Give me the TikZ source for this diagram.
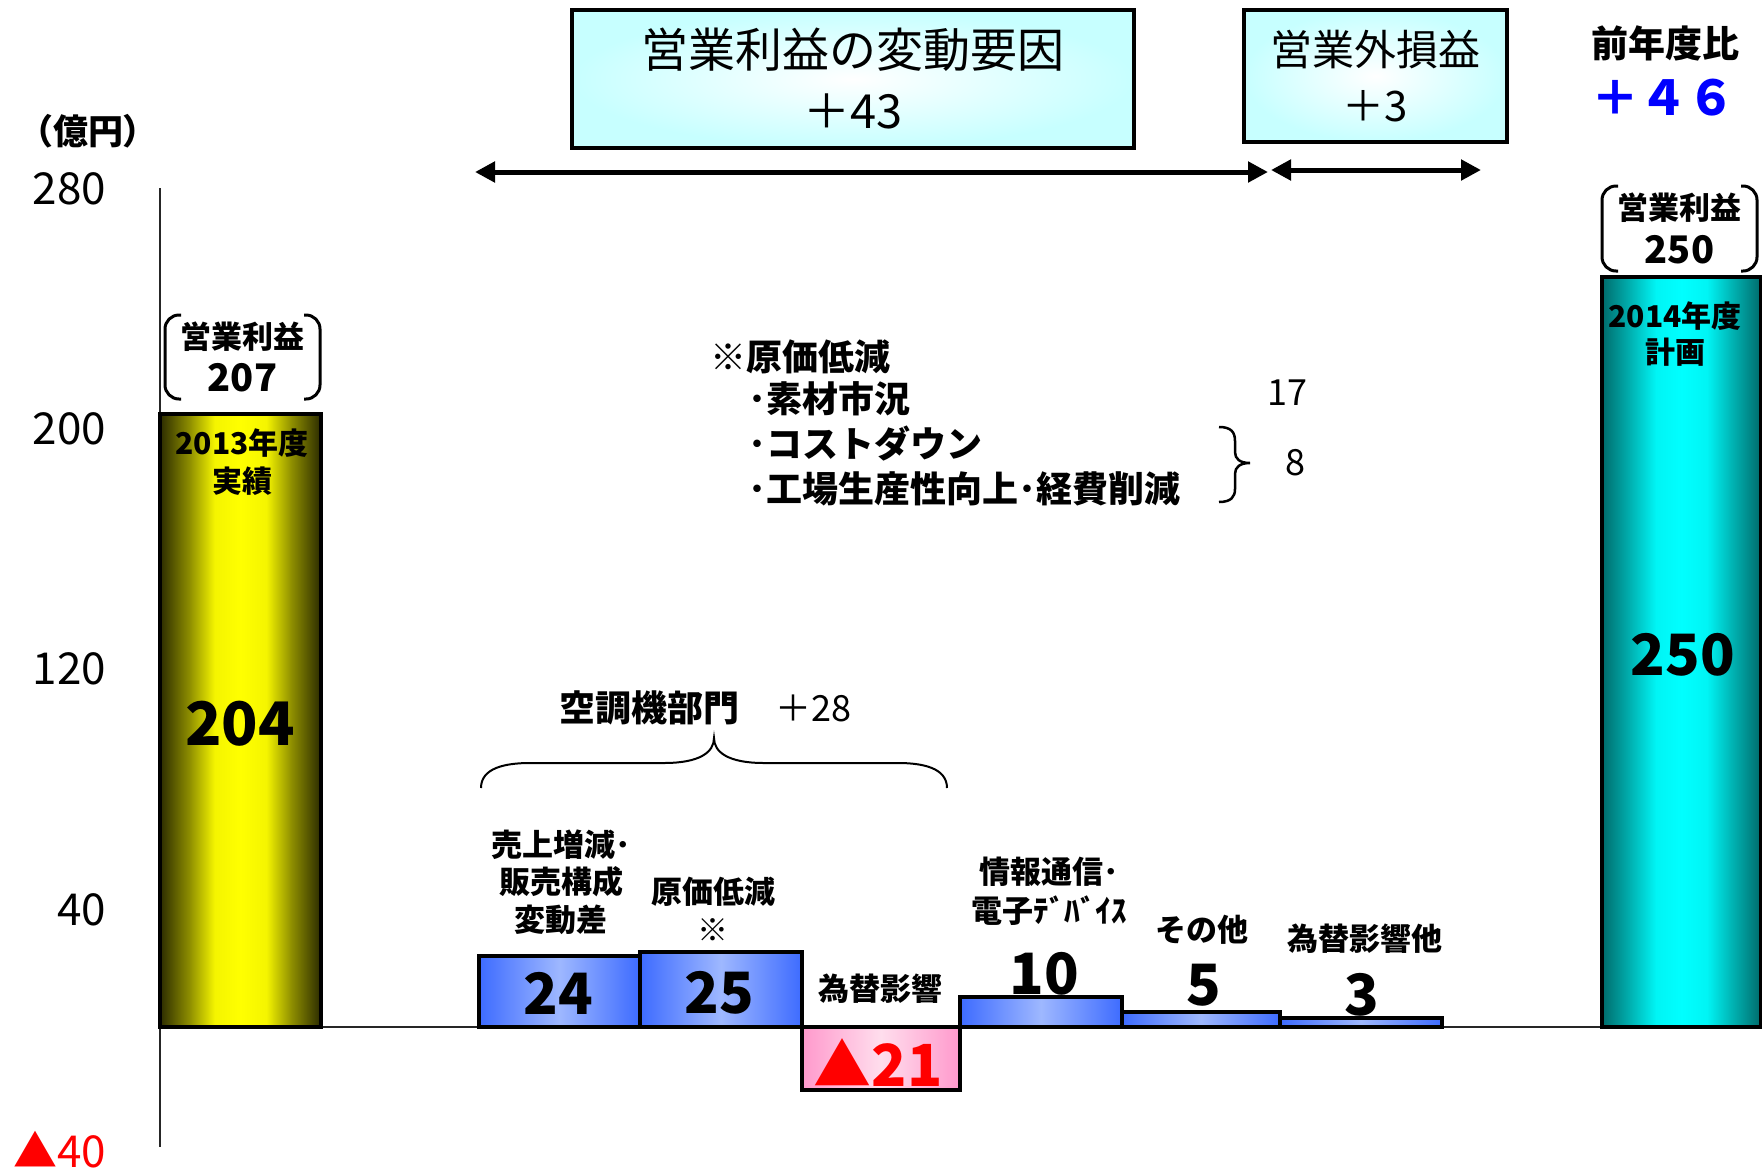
\documentclass[tikz,border=0pt]{standalone}
\usepackage{fontspec}
\setmainfont{Noto Sans CJK JP}
\usetikzlibrary{arrows.meta,shadings}
\newcommand\fsz[2]{\fontsize{#1pt}{#2pt}\selectfont}
\definecolor{ydark}{rgb}{0.17,0.17,0}
\definecolor{ymid}{rgb}{0.55,0.55,0}
\definecolor{ylt}{rgb}{0.96,0.96,0}
\definecolor{yel}{rgb}{1,1,0}
\definecolor{tdark}{rgb}{0,0.42,0.42}
\definecolor{tmid}{rgb}{0,0.7,0.7}
\definecolor{tlt}{rgb}{0,0.96,0.96}
\definecolor{tcyan}{rgb}{0,1,1}
\definecolor{bedge}{rgb}{0.24,0.42,1}
\definecolor{bmid}{rgb}{0.62,0.72,1}
\definecolor{pedge}{rgb}{1,0.6,0.8}
\definecolor{pmid}{rgb}{1,0.87,0.93}
\definecolor{boxc}{rgb}{0.78,1,1}
\definecolor{negred}{rgb}{1,0,0}
\definecolor{posblue}{rgb}{0,0,1}
\pgfdeclarehorizontalshading{yshade}{100bp}{color(0bp)=(ydark); color(25bp)=(ydark); color(34bp)=(ymid); color(42bp)=(ylt); color(50bp)=(yel); color(58bp)=(ylt); color(66bp)=(ymid); color(75bp)=(ydark); color(100bp)=(ydark)}
\pgfdeclarehorizontalshading{tshade}{100bp}{color(0bp)=(tdark); color(25bp)=(tdark); color(34bp)=(tmid); color(42bp)=(tlt); color(50bp)=(tcyan); color(58bp)=(tlt); color(66bp)=(tmid); color(75bp)=(tdark); color(100bp)=(tdark)}
\begin{document}
\begin{tikzpicture}[x=1pt,y=-1pt,
  txt/.style={inner sep=0pt,outer sep=0pt,align=center},
  axlbl/.style={txt,anchor=east,font=\fsz{44}{48}},
  bar/.style={draw=black,line width=3.5pt,inner sep=0pt,outer sep=0pt,anchor=north west},
  ybar/.style={bar,shading=yshade},
  tbar/.style={bar,shading=tshade},
  bbar/.style={bar,left color=bedge,right color=bedge,middle color=bmid},
  pbar/.style={bar,left color=pedge,right color=pedge,middle color=pmid},
  infobox/.style={draw=black,line width=3.5pt,inner color=white,outer color=boxc,align=center,inner sep=0pt},
  dimarrow/.style={{Triangle[length=20pt,width=20pt]}-{Triangle[length=20pt,width=20pt]},line width=5pt},
  bracketline/.style={line width=3pt,rounded corners=14pt},
  barlbl/.style={txt,font=\fsz{31}{38}\bfseries},
  bignum/.style={txt,font=\fsz{57}{60}\bfseries},
]
\useasboundingbox (0,0) rectangle (1762,1171);

% axes
\coordinate (axtop) at (160,188);
\coordinate (axbot) at (160,1147);
\coordinate (base0) at (160,1027);
\coordinate (base1) at (1602,1027);
\draw[line width=1.5pt,black!85] (axtop) -- (axbot);
\draw[line width=1.5pt,black!85] (base0) -- (base1);

\node[txt,font=\fsz{35}{38}\bfseries] (unit) at (88,131) {（億円）};
\node[axlbl] (l280) at (106,189) {280};
\node[axlbl] (l200) at (106,429) {200};
\node[axlbl] (l120) at (106,669) {120};
\node[axlbl] (l40) at (106,910) {40};
\node[axlbl,text=negred] (lm40) at (106,1150) {▲40};

% header boxes
\node[infobox,minimum width=562pt,minimum height=138pt,font=\fsz{47}{61}] (box1) at (853,79) {営業利益の変動要因\\＋43};
\node[infobox,minimum width=263pt,minimum height=132pt,font=\fsz{42}{56}] (box2) at (1375.5,76) {営業外損益\\＋3};
\node[txt,font=\fsz{37}{40}\bfseries] (zen) at (1665,43) {前年度比};
\node[txt,font=\fsz{48}{50}\bfseries,text=posblue] (p46) at (1663,98) {＋４６};

% arrows
\coordinate (a1l) at (475,172);
\coordinate (a1r) at (1268,172);
\coordinate (a2l) at (1271,170);
\coordinate (a2r) at (1481,170);
\draw[dimarrow] (a1l) -- (a1r);
\draw[dimarrow] (a2l) -- (a2r);

% bars
\node[ybar,minimum width=161pt,minimum height=613pt] (y13) at (160,414) {};
\node[bbar,minimum width=161pt,minimum height=71pt] (b24) at (479,956) {};
\node[bbar,minimum width=162pt,minimum height=75pt] (b25) at (640,952) {};
\node[pbar,minimum width=158pt,minimum height=63pt] (r21) at (802,1027) {};
\node[bbar,minimum width=162pt,minimum height=30pt] (b10) at (960,997) {};
\node[bbar,minimum width=158pt,minimum height=15pt] (b5) at (1122,1012) {};
\node[bbar,minimum width=162pt,minimum height=9pt] (b3) at (1280,1018) {};
\node[tbar,minimum width=159pt,minimum height=750pt] (t14) at (1602,277) {};

% texts in big bars
\node[txt,font=\fsz{30}{38}\bfseries] (y13t) at (242,462) {2013年度\\実績};
\node[txt,font=\fsz{60}{62}\bfseries] (y13v) at (240,724) {204};
\node[txt,font=\fsz{30}{36}\bfseries] (t14t) at (1675,334) {2014年度\\計画};
\node[txt,font=\fsz{57}{60}\bfseries] (t14v) at (1683,655) {250};

% bracket labels
\node[txt,minimum width=155pt,minimum height=84pt,font=\fsz{31}{43}\bfseries] (p207) at (242.5,357) {営業利益\\{\fsz{38}{43}207}};
\draw[bracketline] ([xshift=16pt]p207.north west) -- (p207.north west) -- (p207.south west) -- ([xshift=16pt]p207.south west);
\draw[bracketline] ([xshift=-16pt]p207.north east) -- (p207.north east) -- (p207.south east) -- ([xshift=-16pt]p207.south east);
\node[txt,minimum width=155pt,minimum height=85pt,font=\fsz{31}{44}\bfseries] (p250) at (1679.5,228.5) {営業利益\\{\fsz{38}{44}250}};
\draw[bracketline] ([xshift=16pt]p250.north west) -- (p250.north west) -- (p250.south west) -- ([xshift=16pt]p250.south west);
\draw[bracketline] ([xshift=-16pt]p250.north east) -- (p250.north east) -- (p250.south east) -- ([xshift=-16pt]p250.south east);

% values of small bars
\node[bignum] (v24) at (558,993) {24};
\node[bignum] (v25) at (719,993) {25};
\node[txt,font=\fsz{58}{60}\bfseries,text=negred] (v21) at (878,1063) {▲21};
\node[bignum] (v10) at (1044,974) {10};
\node[bignum] (v5) at (1204,985) {5};
\node[bignum] (v3) at (1362,995) {3};

% labels above small bars
\node[barlbl,font=\fsz{31}{37.5}\bfseries] (c24) at (561,882) {売上増減･\\販売構成\\変動差};
\node[barlbl] (c25) at (713,909) {原価低減\\※};
\node[barlbl] (c21) at (880,989) {為替影響};
\node[barlbl,font=\fsz{31}{39}\bfseries] (c10) at (1049,891) {情報通信･\\電子ﾃﾞﾊﾞｲｽ};
\node[barlbl] (c5) at (1202,930) {その他};
\node[barlbl] (c3) at (1365,939) {為替影響他};

% air-conditioning brace
\node[txt,font=\fsz{36}{40}] (aircon) at (705,708) {\bfseries 空調機部門　\mdseries＋28};
\coordinate (brL) at (481,788);
\coordinate (brT) at (714,738);
\coordinate (brR) at (947,788);
\draw[line width=2pt] (brL) .. controls (481,768) and (505,763) .. (530,763) -- (664,763) .. controls (700,763) and (714,752) .. (brT) .. controls (714,752) and (728,763) .. (764,763) -- (898,763) .. controls (923,763) and (947,768) .. (brR);

% notes
\node[txt,anchor=west,font=\fsz{36}{40}\bfseries] (n0) at (710,357) {※原価低減};
\node[txt,anchor=west,font=\fsz{36}{40}\bfseries] (n1) at (748,399) {･素材市況};
\node[txt,anchor=west,font=\fsz{36}{40}\bfseries] (n2) at (748,444) {･コストダウン};
\node[txt,anchor=west,font=\fsz{36}{40}\bfseries] (n3) at (748,489) {･工場生産性向上･経費削減};
\node[txt,font=\fsz{36}{40}] (n17) at (1287,393) {17};
\node[txt,font=\fsz{36}{40}] (n8) at (1295,463) {8};
\coordinate (sbT) at (1219,427);
\coordinate (sbM) at (1250,463);
\coordinate (sbB) at (1219,502);
\draw[line width=2.5pt] (sbT) .. controls (1231,427) and (1235,432) .. (1235,441) -- (1235,452) .. controls (1235,459) and (1240,463) .. (sbM) .. controls (1240,463) and (1235,467) .. (1235,474) -- (1235,489) .. controls (1235,497) and (1231,502) .. (sbB);
\end{tikzpicture}
\end{document}
